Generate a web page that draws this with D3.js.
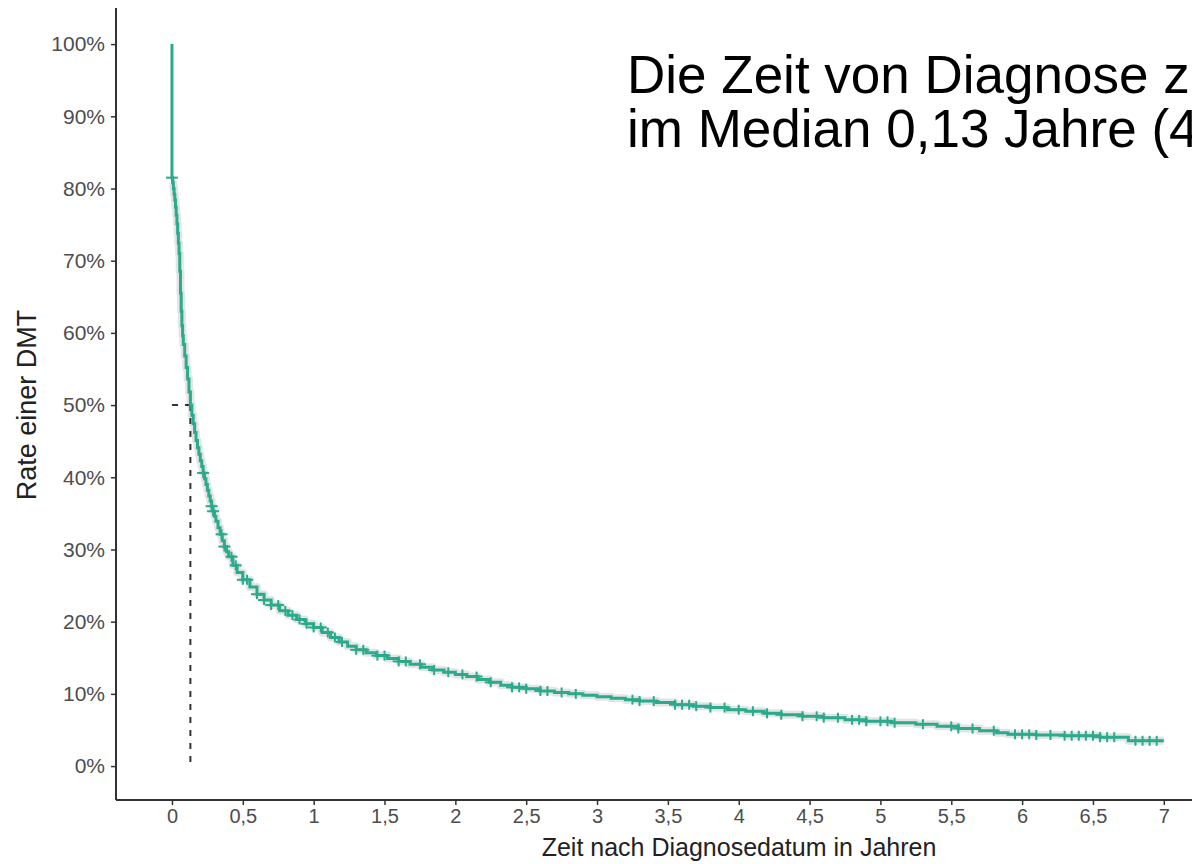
<!DOCTYPE html>
<html>
<head>
<meta charset="utf-8">
<script src="https://cdn.jsdelivr.net/npm/d3@7"></script>
<style>
  html, body { margin: 0; padding: 0; background: #fff; overflow: hidden; }
  svg { display: block; }
</style>
</head>
<body>
<svg id="chart" width="1192" height="864"></svg>
<script>
// ---- data ----
const titleLines = ["Die Zeit von Diagnose z", "im Median 0,13 Jahre (4"];
const xLabel = "Zeit nach Diagnosedatum in Jahren";
const yLabel = "Rate einer DMT";
const xTicks = [0, 0.5, 1, 1.5, 2, 2.5, 3, 3.5, 4, 4.5, 5, 5.5, 6, 6.5, 7];
const yTicks = [0, 10, 20, 30, 40, 50, 60, 70, 80, 90, 100];
const medianTime = 0.13;
const medianRate = 50;

// Kaplan-Meier step curve: times (years) and rate (%)
const times = [0, 0, 0.005, 0.01, 0.015, 0.02, 0.025, 0.03, 0.035, 0.04, 0.045, 0.05, 0.055, 0.06, 0.065, 0.07,
  0.075, 0.08, 0.09, 0.10, 0.11, 0.12, 0.13,
  0.14, 0.15, 0.16, 0.17, 0.18, 0.19, 0.20, 0.21, 0.22, 0.23, 0.24, 0.25, 0.26, 0.27, 0.28, 0.29, 0.30,
  0.31, 0.325, 0.34, 0.355, 0.37, 0.385, 0.40, 0.43, 0.46, 0.50,
  0.55, 0.60, 0.65, 0.70, 0.76, 0.82, 0.88, 0.94, 1.00, 1.06, 1.12, 1.18, 1.24, 1.30, 1.37,
  1.44, 1.52, 1.60, 1.68, 1.76, 1.84, 1.92, 2.00, 2.08, 2.16, 2.24, 2.32, 2.40, 2.50, 2.60,
  2.70, 2.80, 2.90, 3.00, 3.10, 3.20, 3.30, 3.42, 3.55, 3.68, 3.80, 3.92, 4.05, 4.18, 4.30,
  4.45, 4.60, 4.75, 4.90, 5.08, 5.25, 5.40, 5.55, 5.70, 5.82, 5.90, 6.10, 6.30, 6.55, 6.75, 7.00];
const rates = [100, 81.5, 80.8, 80, 79.2, 78.4, 77.4, 76.3, 75.1, 73.8, 72.4, 71, 68.5, 65.5, 63, 61,
  59.6, 58.4, 56.8, 55.2, 53.6, 51.8, 50,
  48.6, 47.4, 46.2, 45.1, 44.1, 43.2, 42.3, 41.5, 40.6, 39.8, 39, 38.2, 37.4, 36.7, 36, 35.3, 34.6,
  33.9, 33, 32.1, 31.2, 30.4, 29.7, 29, 27.8, 26.8, 25.8,
  24.8, 23.8, 23, 22.3, 21.5, 20.9, 20.3, 19.7, 19.2, 18.5, 17.8, 17.2, 16.6, 16.1, 15.7,
  15.3, 14.9, 14.5, 14.1, 13.7, 13.3, 13.0, 12.7, 12.4, 12.0, 11.6, 11.2, 10.9, 10.7, 10.4,
  10.2, 10.0, 9.8, 9.6, 9.4, 9.2, 9.0, 8.8, 8.5, 8.3, 8.1, 7.8, 7.6, 7.3, 7.1,
  6.9, 6.7, 6.4, 6.2, 6.0, 5.8, 5.5, 5.2, 4.9, 4.6, 4.4, 4.3, 4.2, 4.0, 3.5, 3.5];

// censoring times (years)
const censorTimes = [0.0, 0.22, 0.28, 0.29, 0.35, 0.37, 0.42, 0.45, 0.5, 0.53, 0.6, 0.65, 0.7, 0.75,
  0.8, 0.85, 0.9, 0.95, 1.0, 1.05, 1.1, 1.15, 1.2, 1.3, 1.35, 1.45, 1.5, 1.6, 1.65, 1.75, 1.85,
  1.95, 2.05, 2.15, 2.25, 2.4, 2.45, 2.5, 2.6, 2.65, 2.75, 2.85, 3.25, 3.3, 3.4, 3.55, 3.6, 3.65,
  3.7, 3.8, 3.9, 4.0, 4.1, 4.2, 4.3, 4.45, 4.55, 4.6, 4.7, 4.8, 4.85, 4.9, 5.0, 5.05, 5.1, 5.3,
  5.5, 5.55, 5.65, 5.8, 5.95, 6.0, 6.05, 6.1, 6.2, 6.3, 6.35, 6.4, 6.45, 6.5, 6.55, 6.6, 6.65,
  6.8, 6.85, 6.9, 6.95];

// ---- drawing ----
const svg = d3.select("#chart");
const FONT = "'Liberation Sans', Arial, Helvetica, sans-serif";
const lineColor = "#2aab8c";

const x = d3.scaleLinear().domain([-0.395, 8.3]).range([116, 1348]);
const y = d3.scaleLinear().domain([-4.7, 105]).range([800, 8]);

const pts = times.map((t, i) => [t, rates[i]]);

function rateAt(t) {
  let r = rates[0];
  for (let i = 0; i < times.length; i++) { if (times[i] <= t) r = rates[i]; else break; }
  return r;
}

const line = d3.line().x(d => x(d[0])).y(d => y(d[1])).curve(d3.curveStepAfter);

// confidence band (light grey halo)
svg.append("path").datum(pts.slice(2))
  .attr("d", line).attr("fill", "none")
  .attr("stroke", "#e4e4e4").attr("stroke-width", 8).attr("stroke-linejoin", "round");

// median lines
svg.append("line")
  .attr("x1", x(0)).attr("x2", x(medianTime))
  .attr("y1", y(medianRate)).attr("y2", y(medianRate))
  .attr("stroke", "#333").attr("stroke-width", 2).attr("stroke-dasharray", "6,7");
svg.append("line")
  .attr("x1", x(medianTime)).attr("x2", x(medianTime))
  .attr("y1", y(medianRate)).attr("y2", y(0))
  .attr("stroke", "#333").attr("stroke-width", 2).attr("stroke-dasharray", "6,7");

// KM curve
svg.append("path").datum(pts)
  .attr("d", line).attr("fill", "none")
  .attr("stroke", lineColor).attr("stroke-width", 3);

// censor marks
const cg = svg.append("g").attr("stroke", lineColor).attr("stroke-width", 2);
censorTimes.forEach(t => {
  const cx = x(t), cy = y(rateAt(t));
  cg.append("line").attr("x1", cx - 6).attr("x2", cx + 6).attr("y1", cy).attr("y2", cy);
  cg.append("line").attr("x1", cx).attr("x2", cx).attr("y1", cy - 5).attr("y2", cy + 5);
});

// axes
const fmtX = d => String(d).replace(".", ",");
const xAxis = d3.axisBottom(x).tickValues(xTicks).tickFormat(fmtX).tickSize(5).tickSizeOuter(0).tickPadding(4);
const yAxis = d3.axisLeft(y).tickValues(yTicks).tickFormat(d => d + "%").tickSize(5).tickSizeOuter(0).tickPadding(6);

const gx = svg.append("g").attr("transform", "translate(0,800)").call(xAxis);
const gy = svg.append("g").attr("transform", "translate(116,0)").call(yAxis);
[gx, gy].forEach(g => {
  g.select(".domain").attr("stroke", "#333").attr("stroke-width", 2);
  g.selectAll(".tick line").attr("stroke", "#333").attr("stroke-width", 1.5);
  g.selectAll(".tick text").attr("fill", "#4d4d4d").style("font-family", FONT).style("font-size", "20px");
});
gy.selectAll(".tick text").style("font-size", "21px");
gx.select(".domain").attr("d", "M116,0H1192");
gy.select(".domain").attr("d", "M0,8V800");

// axis titles
svg.append("text").attr("x", 739).attr("y", 856).attr("text-anchor", "middle")
  .style("font-family", FONT).style("font-size", "25px").attr("fill", "#222").text(xLabel);
svg.append("text").attr("transform", "translate(36,405) rotate(-90)").attr("text-anchor", "middle")
  .style("font-family", FONT).style("font-size", "27px").attr("fill", "#222").text(yLabel);

// slide title
const tt = svg.append("text").style("font-family", FONT).style("font-size", "53px").attr("fill", "#000");
titleLines.forEach((s, i) => tt.append("tspan").attr("x", 627).attr("y", 93 + i * 54).text(s));
</script>
</body>
</html>
